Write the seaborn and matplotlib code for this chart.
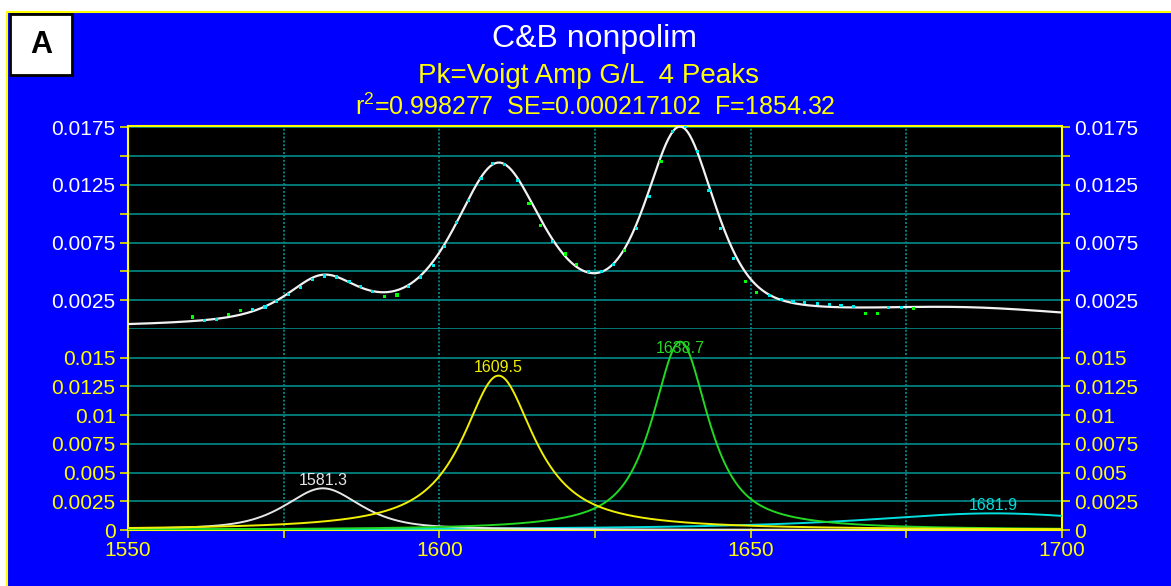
import numpy as np
import pandas as pd
import matplotlib
matplotlib.use("Agg")
import matplotlib.pyplot as plt
from matplotlib.patches import Rectangle
from matplotlib.ticker import FixedLocator, FixedFormatter, NullFormatter
import seaborn as sns

# ---------------- data ----------------
# components shown in the lower panel
peak_labels = ["1581.3", "1609.5", "1638.7", "1681.9"]
peak_centers = [1581.3, 1609.5, 1638.7, 1689.0]
peak_amps = [0.00363, 0.01344, 0.0164, 0.00145]
peak_hwhm = [7.2, 7.0, 5.4, 26.0]
peak_lorentz_frac = [0.65, 0.95, 0.85, 1.0]

total_centers = [1581.3, 1609.5, 1638.7, 1684.0]
total_amps = [0.0038, 0.0136, 0.0164, 0.0016]
total_hwhm = [7.2, 8.4, 6.6, 30.0]
total_lorentz_frac = [0.75, 0.6, 0.55, 1.0]

obs_x = [1560.4, 1562.3, 1564.2, 1566.2, 1568.1, 1570.0, 1572.0, 1573.9, 1575.8, 1577.7,
         1579.7, 1581.6, 1583.5, 1585.5, 1587.4, 1589.3, 1591.2, 1593.2, 1595.1, 1597.0,
         1599.0, 1600.9, 1602.8, 1604.7, 1606.7, 1608.6, 1610.5, 1612.5, 1614.4, 1616.3,
         1618.2, 1620.2, 1622.1, 1624.0, 1626.0, 1627.9, 1629.8, 1631.7, 1633.7, 1635.6,
         1637.5, 1639.5, 1641.4, 1643.3, 1645.2, 1647.2, 1649.1, 1651.0, 1653.0, 1654.9,
         1656.8, 1658.7, 1660.7, 1662.6, 1664.5, 1666.5, 1668.4, 1670.3, 1672.2, 1674.2,
         1676.1]
obs_y = [0.00104, 0.00071, 0.00082, 0.00128, 0.00162, 0.00168, 0.00191, 0.00240, 0.00299, 0.00359,
         0.00431, 0.00460, 0.00451, 0.00414, 0.00371, 0.00327, 0.00284, 0.00295, 0.00368, 0.00451,
         0.00550, 0.00718, 0.00926, 0.01117, 0.01302, 0.01436, 0.01430, 0.01285, 0.01085, 0.00898,
         0.00761, 0.00651, 0.00556, 0.00498, 0.00501, 0.00556, 0.00683, 0.00871, 0.01146, 0.01453,
         0.01710, 0.01753, 0.01542, 0.01198, 0.00868, 0.00611, 0.00414, 0.00319, 0.00293, 0.00258,
         0.00240, 0.00227, 0.00219, 0.00210, 0.00201, 0.00197, 0.00136, 0.00136, 0.00188, 0.00184,
         0.00180]
obs_off = [1, 0, 0, 1, 1, 0, 0, 0, 0, 0,
           0, 0, 0, 0, 0, 0, 1, 1, 0, 0,
           0, 0, 0, 0, 0, 0, 0, 0, 1, 1,
           0, 1, 1, 0, 0, 0, 1, 0, 0, 1,
           0, 0, 0, 0, 0, 0, 1, 1, 0, 0,
           0, 0, 0, 0, 0, 0, 1, 1, 0, 0,
           1]

x_major = [1550, 1600, 1650, 1700]
x_major_labels = ["1550", "1600", "1650", "1700"]
x_minor = [1575, 1625, 1675]
top_major = [0.0025, 0.0075, 0.0125, 0.0175]
top_major_labels = ["0.0025", "0.0075", "0.0125", "0.0175"]
top_minor = [0.005, 0.01, 0.015]
bot_major = [0, 0.0025, 0.005, 0.0075, 0.01, 0.0125, 0.015]
bot_major_labels = ["0", "0.0025", "0.005", "0.0075", "0.01", "0.0125", "0.015"]

title1 = "C&B nonpolim"
title2 = "Pk=Voigt Amp G/L  4 Peaks"
title3 = r"r$^{2}$=0.998277  SE=0.000217102  F=1854.32"
panel_letter = "A"

# ---------------- style ----------------
sns.set_style("dark")
plt.rcParams["font.family"] = ["Liberation Sans", "DejaVu Sans"]
plt.rcParams["mathtext.fontset"] = "custom"
plt.rcParams["mathtext.rm"] = "Liberation Sans"
plt.rcParams["mathtext.default"] = "regular"

BLUE = "#0000ff"
YEL = "#ffff00"
TEAL = "#008080"
peak_colors = ["#e6e6e6", "#f0f000", "#22d822", "#00e0e0"]

W, H = 1171, 586
fig = plt.figure(figsize=(W / 100, H / 100), dpi=100, facecolor="white")
fig.patches.append(Rectangle((7 / W, -0.01), 1.0, 1 - 12 / H + 0.01, transform=fig.transFigure,
                             facecolor=BLUE, edgecolor=YEL, lw=1.5, zorder=-10))
fig.patches.append(Rectangle((10 / W, 1 - 75 / H), 62 / W, 61 / H, transform=fig.transFigure,
                             facecolor="white", edgecolor="black", lw=2, zorder=5))
fig.text(41 / W, 1 - 45 / H, panel_letter, ha="center", va="center", fontsize=22,
         fontweight="bold", color="black", zorder=6)

fig.text(595 / W, 1 - 39 / H, title1, ha="center", va="center", fontsize=23, color="white")
fig.text(588 / W, 1 - 76 / H, title2, ha="center", va="center", fontsize=20, color=YEL)
fig.text(595 / W, 1 - 107 / H, title3, ha="center", va="center", fontsize=18, color=YEL)

left, right = 128 / W, 1062 / W
ax_top = fig.add_axes([left, 1 - 329 / H, right - left, (329 - 126) / H])
ax_bot = fig.add_axes([left, 1 - 530 / H, right - left, (530 - 329) / H])

# ---------------- model curves from the fit parameters ----------------
xs = np.linspace(1550, 1700, 751)


def pvoigt(x, amp, c, hw, eta):
    u = ((x - c) / hw) ** 2
    return amp * (eta / (1 + u) + (1 - eta) * np.exp(-np.log(2) * u))


components = [pvoigt(xs, a, c, w, e) for a, c, w, e in
              zip(peak_amps, peak_centers, peak_hwhm, peak_lorentz_frac)]
total = np.sum([pvoigt(xs, a, c, w, e) for a, c, w, e in
                zip(total_amps, total_centers, total_hwhm, total_lorentz_frac)], axis=0)

for ax in (ax_top, ax_bot):
    ax.set_facecolor("black")
    ax.set_xlim(1550, 1700)
    ax.set_axisbelow(True)
    ax.xaxis.set_major_locator(FixedLocator(x_major))
    ax.xaxis.set_minor_locator(FixedLocator(x_minor))
    ax.xaxis.grid(True, which="both", color=TEAL, lw=1.4, ls=(0, (1, 1)))
    ax.yaxis.grid(True, which="both", color=TEAL, lw=1.3, ls="-")
    for s in ("left", "right"):
        ax.spines[s].set_color(YEL)
        ax.spines[s].set_linewidth(1.5)
    ax.tick_params(axis="y", which="both", direction="out", left=True, right=True,
                   labelleft=True, labelright=True, length=6, width=1.3, color="#d8d800",
                   labelsize=15, pad=3)

# top panel
ax_top.set_ylim(0, 0.01761)
ax_top.yaxis.set_major_locator(FixedLocator(top_major))
ax_top.yaxis.set_major_formatter(FixedFormatter(top_major_labels))
ax_top.yaxis.set_minor_locator(FixedLocator(top_minor))
ax_top.yaxis.set_minor_formatter(NullFormatter())
ax_top.tick_params(axis="y", which="both", labelcolor="white")
ax_top.tick_params(axis="x", which="both", bottom=False, labelbottom=False)
ax_top.spines["top"].set_color(YEL)
ax_top.spines["top"].set_linewidth(1.5)
ax_top.spines["bottom"].set_visible(False)
ax_top.axhline(0, color=TEAL, lw=1.3, clip_on=False, zorder=0.5)

sns.lineplot(x=xs, y=total, ax=ax_top, color="#f2f2f2", lw=1.6, legend=False, zorder=3)
obs = pd.DataFrame({"x": obs_x, "y": obs_y,
                    "kind": ["off" if o else "fit" for o in obs_off]})
sns.scatterplot(data=obs, x="x", y="y", hue="kind", ax=ax_top, marker="s", s=5,
                palette={"fit": "#00e8e8", "off": "#00ff00"}, edgecolor="none",
                legend=False, zorder=4)
ax_top.set_xlabel("")
ax_top.set_ylabel("")

# bottom panel
ax_bot.set_ylim(0, 0.0175)
ax_bot.yaxis.set_major_locator(FixedLocator(bot_major))
ax_bot.yaxis.set_major_formatter(FixedFormatter(bot_major_labels))
ax_bot.tick_params(axis="y", which="both", labelcolor=YEL)
ax_bot.xaxis.set_major_formatter(FixedFormatter(x_major_labels))
ax_bot.xaxis.set_minor_formatter(NullFormatter())
ax_bot.tick_params(axis="x", which="both", direction="out", bottom=True, length=6,
                   width=1.3, color="#d8d800", labelcolor=YEL, labelsize=15, pad=2)
ax_bot.spines["top"].set_visible(False)
ax_bot.spines["bottom"].set_color(YEL)
ax_bot.spines["bottom"].set_linewidth(1.5)

draw_order = [3, 0, 2, 1]
for i in draw_order:
    sns.lineplot(x=xs, y=components[i], ax=ax_bot, color=peak_colors[i], lw=1.4,
                 legend=False, zorder=3)
for i in range(len(peak_labels)):
    ty = min(peak_amps[i] + 0.0007, 0.0158)
    ax_bot.text(peak_centers[i], ty, peak_labels[i], ha="center", va="center",
                fontsize=11.5, color=peak_colors[i], zorder=5)
ax_bot.set_xlabel("")
ax_bot.set_ylabel("")

fig.savefig("out.png", dpi=100, facecolor="white")
